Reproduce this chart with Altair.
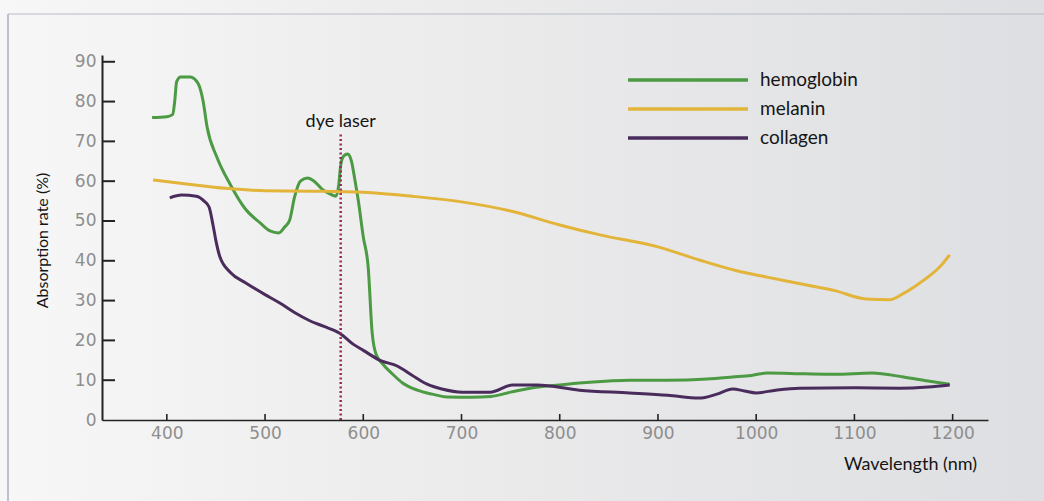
import altair as alt
import pandas as pd

# Absorption spectra (wavelength in nm, absorption rate in %)
hemo_nm = [385, 400, 406, 408, 410, 414, 424, 432, 437, 441, 451, 465, 480, 495, 505, 514,
           520, 525, 530, 536, 543, 550, 558, 566, 572, 575, 577, 580, 584, 588, 591, 595,
           600, 605, 609, 613, 620, 630, 640, 655, 670, 685, 710, 730, 750, 770, 800, 820,
           850, 871, 910, 950, 976, 995, 1011, 1050, 1080, 1118, 1150, 1175, 1197]
hemo_val = [76.0, 76.2, 76.8, 80, 85, 86.2, 86.2, 84.5, 80, 73.6, 66, 59, 53, 49.5, 47.5, 47,
            48.5, 50.2, 56, 60, 60.8, 60, 58, 56.8, 56.2, 59, 64, 66.3, 66.8, 65, 61, 55,
            46, 38.4, 22, 16.5, 14, 11.5, 9.3, 7.5, 6.5, 5.8, 5.7, 5.9, 7, 8, 8.8, 9.3,
            9.8, 10, 10, 10.3, 10.8, 11.2, 11.8, 11.6, 11.5, 11.8, 10.8, 9.8, 9.0]

mel_nm = [386, 420, 460, 500, 550, 600, 650, 700, 750, 800, 841, 900, 942, 980, 1011, 1050,
          1080, 1112, 1136, 1150, 1163, 1178, 1187, 1197]
mel_val = [60.3, 59.3, 58.2, 57.6, 57.5, 57.2, 56.2, 54.8, 52.5, 49, 46.5, 43.5, 40.2, 37.5,
           35.9, 34, 32.5, 30.4, 30.2, 31.8, 33.8, 36.5, 38.5, 41.5]

col_nm = [403, 415, 430, 438, 443, 447, 450, 454, 465, 480, 500, 515, 530, 545, 560, 576, 590,
          600, 617, 635, 650, 665, 680, 701, 729, 752, 777, 820, 871, 910, 942, 960, 976, 988,
          1000, 1020, 1044, 1100, 1146, 1175, 1197]
col_val = [55.8, 56.5, 56.2, 55, 53.5, 49, 45, 41, 37, 34.5, 31.5, 29.4, 27, 25, 23.5, 21.8, 19,
           17.5, 15, 13.5, 11.2, 9, 7.8, 7, 7, 8.8, 8.8, 7.5, 6.8, 6.2, 5.5, 6.5, 7.8, 7.3,
           6.8, 7.5, 8, 8.1, 8, 8.3, 8.8]

series_names = ["hemoglobin", "melanin", "collagen"]
series_colors = ["#4c9a44", "#e2b43a", "#4a2c5c"]

x_ticks = [400, 500, 600, 700, 800, 900, 1000, 1100, 1200]
y_ticks = [0, 10, 20, 30, 40, 50, 60, 70, 80, 90]

dye_nm = 577
dye_top = 72

# Long table, drawn green first, then collagen, then melanin on top
rows = []
for name, xs, ys in [("hemoglobin", hemo_nm, hemo_val),
                     ("collagen", col_nm, col_val),
                     ("melanin", mel_nm, mel_val)]:
    for i, (a, b) in enumerate(zip(xs, ys)):
        rows.append({"series": name, "nm": a, "rate": b, "order": i})
df = pd.DataFrame(rows)

W, H = 886, 365
PAD_L, PAD_T = 102, 55
FONT = "Lato"
TICK_FONT = "DejaVu Sans"

x_scale = alt.Scale(domain=[334, 1236], nice=False, zero=False)
y_scale = alt.Scale(domain=[0, 91.7], nice=False)
color_scale = alt.Scale(domain=series_names, range=series_colors)

one = pd.DataFrame({"k": [0]})

# Page backdrop with a soft left-to-right shading and a thin frame
backdrop = alt.Chart(one).mark_rect(
    fill=alt.Gradient(
        gradient="linear",
        stops=[alt.GradientStop(color="#f7f7f7", offset=0),
               alt.GradientStop(color="#ebebec", offset=0.45),
               alt.GradientStop(color="#dedfe2", offset=1)],
        x1=0, x2=1, y1=0, y2=0,
    )
).encode(x=alt.value(-PAD_L), x2=alt.value(1044 - PAD_L),
         y=alt.value(-PAD_T), y2=alt.value(501 - PAD_T))

frame_left = alt.Chart(one).mark_rule(color="#aab0c0", strokeWidth=1.5).encode(
    x=alt.value(8 - PAD_L), y=alt.value(14 - PAD_T), y2=alt.value(501 - PAD_T))

frame_top = alt.Chart(one).mark_rule(color="#b8bcc8", strokeWidth=1.2).encode(
    x=alt.value(8 - PAD_L), x2=alt.value(1044 - PAD_L), y=alt.value(14 - PAD_T))

lines = alt.Chart(df).mark_line(strokeWidth=3, interpolate="monotone").encode(
    x=alt.X("nm:Q", scale=x_scale,
            axis=alt.Axis(values=x_ticks, format="d", title="Wavelength (nm)", grid=False,
                          ticks=False, domainColor="#222222", domainWidth=1.6, zindex=1,
                          labelColor="#8e8e8e", labelFont=TICK_FONT, labelFontSize=17,
                          labelPadding=5, titleFont=FONT, titleFontSize=18,
                          titleFontWeight="normal", titleColor="#151515",
                          titleX=808, titleY=44, titleAlign="center", titleBaseline="middle")),
    y=alt.Y("rate:Q", scale=y_scale,
            axis=alt.Axis(values=y_ticks, format="d", title="Absorption rate (%)", grid=False,
                          ticks=False, domainColor="#222222", domainWidth=2, zindex=1,
                          labelColor="#8e8e8e", labelFont=TICK_FONT, labelFontSize=17,
                          labelPadding=6, titleFont=FONT, titleFontSize=16,
                          titleFontWeight="normal", titleColor="#151515",
                          titleX=-60, titleY=185, titleAlign="center", titleBaseline="middle")),
    color=alt.Color("series:N", scale=color_scale, legend=None),
    order="order:Q",
)

# Inward-pointing tick marks
ytick_df = pd.DataFrame({"v": y_ticks[1:]})
yticks = alt.Chart(ytick_df).mark_rule(color="#222222", strokeWidth=2).encode(
    y=alt.Y("v:Q", scale=y_scale), x=alt.value(0), x2=alt.value(13))

xtick_df = pd.DataFrame({"v": x_ticks})
xticks = alt.Chart(xtick_df).mark_rule(color="#222222", strokeWidth=1.6).encode(
    x=alt.X("v:Q", scale=x_scale), y=alt.value(H), y2=alt.value(H - 6))

# Dye laser wavelength marker
dye_df = pd.DataFrame({"nm": [dye_nm], "lo": [0], "hi": [dye_top], "label": ["dye laser"]})
dye_line = alt.Chart(dye_df).mark_rule(
    color="#9b2a58", strokeWidth=2.5, strokeDash=[2, 2.5]
).encode(x=alt.X("nm:Q", scale=x_scale), y=alt.Y("lo:Q", scale=y_scale), y2="hi:Q")
dye_text = alt.Chart(dye_df).mark_text(
    font=FONT, fontSize=18, color="#151515", baseline="bottom", align="center", dy=-2
).encode(x=alt.X("nm:Q", scale=x_scale), y=alt.Y("hi:Q", scale=y_scale), text="label:N")

# Legend drawn as line swatches with labels, one row per series
legend_rows = []
for i, (name, col) in enumerate(zip(series_names, series_colors)):
    row_df = pd.DataFrame({"series": [name]})
    ypix = 25 + 29 * i
    legend_rows.append(
        alt.Chart(row_df).mark_rule(strokeWidth=3.5, color=col).encode(
            y=alt.value(ypix), x=alt.value(526), x2=alt.value(646)))
    legend_rows.append(
        alt.Chart(row_df).mark_text(
            font=FONT, fontSize=19, color="#151515", align="left", baseline="middle"
        ).encode(y=alt.value(ypix), x=alt.value(658), text="series:N"))

chart = alt.layer(
    backdrop, frame_left, frame_top, lines, yticks, xticks, dye_line, dye_text, *legend_rows
).properties(
    width=W, height=H,
    padding={"left": PAD_L, "top": PAD_T, "right": 1044 - PAD_L - W, "bottom": 501 - PAD_T - H},
    autosize=alt.AutoSizeParams(type="none"),
).configure_view(stroke=None).configure(background="#f2f2f2")

chart.save("out.html", embed_options={"renderer": "svg", "actions": False})
